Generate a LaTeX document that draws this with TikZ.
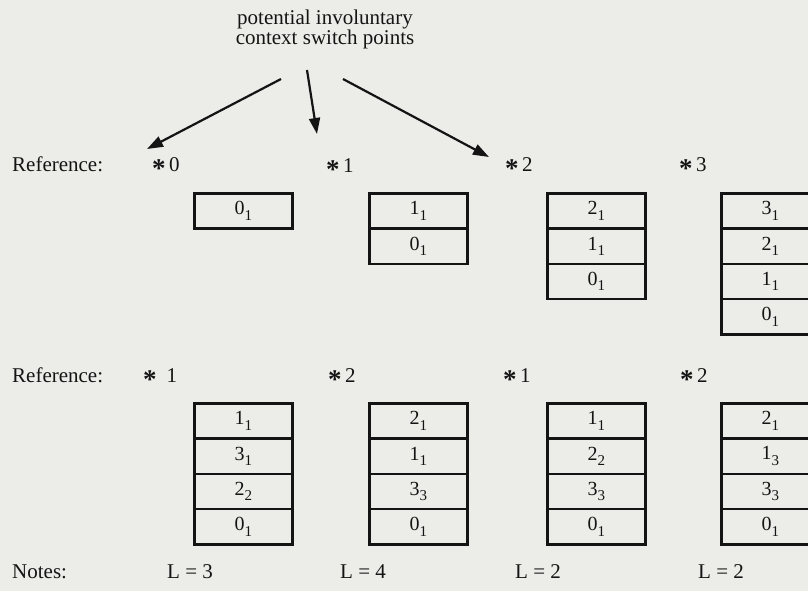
\documentclass[tikz,border=0pt]{standalone}
\usepackage{fontspec}
\setmainfont{Liberation Serif}
\usetikzlibrary{arrows.meta}
\definecolor{paper}{RGB}{236,236,233}
\definecolor{ink}{RGB}{20,20,20}
\newcommand{\lab}[2]{#1\raisebox{-0.28em}{\fontsize{15}{15}\selectfont #2}}
\newcommand{\astr}{\raisebox{-0.32em}{\fontsize{27}{27}\selectfont\textbf{*}}}
\begin{document}
\begin{tikzpicture}[x=1pt,y=-1pt,
  txt/.style={font=\fontsize{21}{21}\selectfont, inner sep=0pt, anchor=base west, text=ink},
  cell/.style={draw=ink, line width=2.5pt, minimum width=98pt, minimum height=35.3pt, inner sep=0pt,
    anchor=north west, font=\fontsize{20}{20}\selectfont, text=ink},
  arr/.style={draw=ink, line width=2.2pt, -{Triangle[length=16pt,width=11pt]}}]
\clip (0,0) rectangle (808,591);
\fill[paper] (0,0) rectangle (808,591);

% title
\node[font=\fontsize{21}{19}\selectfont, align=center, inner sep=0pt, anchor=base, text=ink] (title) at (325,45)
  {potential involuntary\\context switch points};
\coordinate (s0) at (281,79);
\coordinate (e0) at (147,149);
\coordinate (s1) at (307,70);
\coordinate (e1) at (317,134);
\coordinate (s2) at (343,79);
\coordinate (e2) at (489,157);
\draw[arr] (s0) -- (e0);
\draw[arr] (s1) -- (e1);
\draw[arr] (s2) -- (e2);

% row 1 labels
\node[txt] (ref1) at (12,171) {Reference:};
\node[txt] (p10) at (152,171) {\astr\,0};
\node[txt] (p11) at (326,172) {\astr\,1};
\node[txt] (p12) at (505,171) {\astr\,2};
\node[txt] (p13) at (679,171) {\astr\,3};

% row 1 stacks
\foreach \l [count=\i from 0] in {{\lab{0}{1}}}
  \node[cell] (a1\i) at (193,{192+35.3*\i}) {\l};
\foreach \l [count=\i from 0] in {{\lab{1}{1}},{\lab{0}{1}}}
  \node[cell] (b1\i) at (368,{192+35.3*\i}) {\l};
\foreach \l [count=\i from 0] in {{\lab{2}{1}},{\lab{1}{1}},{\lab{0}{1}}}
  \node[cell] (c1\i) at (546,{192+35.3*\i}) {\l};
\foreach \l [count=\i from 0] in {{\lab{3}{1}},{\lab{2}{1}},{\lab{1}{1}},{\lab{0}{1}}}
  \node[cell] (d1\i) at (720,{192+35.3*\i}) {\l};

% row 2 labels
\node[txt] (ref2) at (12,382) {Reference:};
\node[txt] (p20) at (143,382) {\astr\hspace{10pt}1};
\node[txt] (p21) at (328,382) {\astr\,2};
\node[txt] (p22) at (503,382) {\astr\,1};
\node[txt] (p23) at (680,382) {\astr\,2};

% row 2 stacks
\foreach \l [count=\i from 0] in {{\lab{1}{1}},{\lab{3}{1}},{\lab{2}{2}},{\lab{0}{1}}}
  \node[cell] (a2\i) at (193,{402+35.3*\i}) {\l};
\foreach \l [count=\i from 0] in {{\lab{2}{1}},{\lab{1}{1}},{\lab{3}{3}},{\lab{0}{1}}}
  \node[cell] (b2\i) at (368,{402+35.3*\i}) {\l};
\foreach \l [count=\i from 0] in {{\lab{1}{1}},{\lab{2}{2}},{\lab{3}{3}},{\lab{0}{1}}}
  \node[cell] (c2\i) at (546,{402+35.3*\i}) {\l};
\foreach \l [count=\i from 0] in {{\lab{2}{1}},{\lab{1}{3}},{\lab{3}{3}},{\lab{0}{1}}}
  \node[cell] (d2\i) at (720,{402+35.3*\i}) {\l};

% notes
\node[txt] (notes) at (12,578) {Notes:};
\node[txt] (n0) at (167,578) {L = 3};
\node[txt] (n1) at (340,578) {L = 4};
\node[txt] (n2) at (515,578) {L = 2};
\node[txt] (n3) at (698,578) {L = 2};
\end{tikzpicture}
\end{document}
